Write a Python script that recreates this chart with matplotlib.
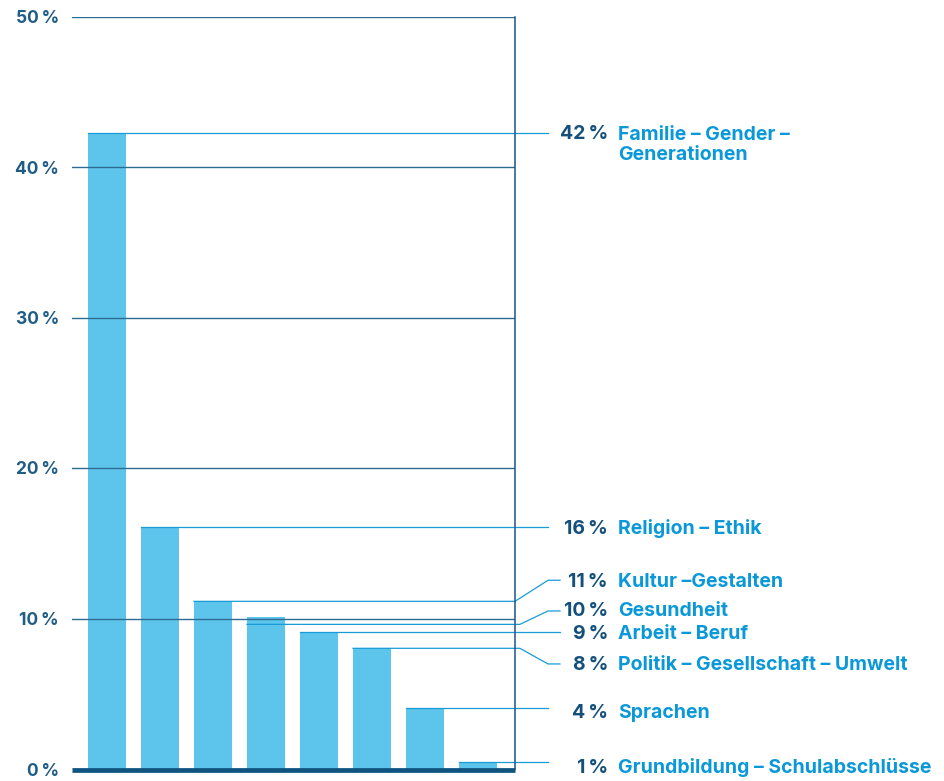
import matplotlib
matplotlib.use("Agg")
import matplotlib.pyplot as plt
import matplotlib.transforms as mtransforms

# ---- data ----
categories = [
    "Familie – Gender –\nGenerationen",
    "Religion – Ethik",
    "Kultur –Gestalten",
    "Gesundheit",
    "Arbeit – Beruf",
    "Politik – Gesellschaft – Umwelt",
    "Sprachen",
    "Grundbildung – Schulabschlüsse",
]
values = [42.24, 16.08, 11.14, 10.1, 9.08, 8.02, 4.05, 0.49]
value_labels = ["42\u2009%", "16\u2009%", "11\u2009%", "10\u2009%", "9\u2009%", "8\u2009%", "4\u2009%", "1\u2009%"]
yticks = [0, 10, 20, 30, 40, 50]
ytick_labels = ["0\u2009%", "10\u2009%", "20\u2009%", "30\u2009%", "40\u2009%", "50\u2009%"]

# ---- layout (label positions, not data) ----
leader_start_y = [None, None, None, 9.61, None, None, None, None]   # None -> bar top
label_y = [42.24, 16.08, 12.54, 10.5, 9.08, 6.98, 4.05, 0.49]
label_dy_px = [1.6, 0, 0, 2, 0, 1, -2.7, -4]
leader_end = [1.0745, 1.0745, 1.1016, 1.1016, 1.1016, 1.1016, 1.0745, 1.0745]

BAR = "#5DC5EC"
LEADER = "#1A9BD7"
CAT = "#0A98D8"
NUM = "#14507A"
TICK = "#1F5C86"
GRID = "#2E6B92"
SPINE = "#1B5580"
BASE = "#0F5381"
FAM = ["Inter", "DejaVu Sans"]
FS = 14
FS_TICK = 12.5
LINE_PX = 21

W, H, DPI = 945, 781, 100
fig = plt.figure(figsize=(W / DPI, H / DPI), dpi=DPI)
ax = fig.add_axes([72 / W, (H - 769) / H, 443 / W, (769 - 16.5) / H])

x = list(range(len(values)))
bw = 38 / 53
ax.bar(x, values, width=bw, color=BAR, zorder=1)

ax.set_xlim(-35 / 53, 408 / 53)
ax.set_ylim(0, 50)

ax.set_yticks(yticks)
ax.set_yticklabels(ytick_labels, fontfamily=FAM, fontweight="bold",
                   fontsize=FS_TICK, color=TICK)
ax.tick_params(axis="y", length=0, pad=9.4)
ax.set_xticks([])
ax.yaxis.grid(True, color=GRID, lw=1.0)
ax.set_axisbelow(False)

for s in ["left", "top", "bottom"]:
    ax.spines[s].set_visible(False)
ax.spines["right"].set_color(SPINE)
ax.spines["right"].set_linewidth(1.1)
ax.spines["right"].set_zorder(4)

# baseline
base_off = mtransforms.ScaledTranslation(0, -1.0 / DPI, fig.dpi_scale_trans)
ax.plot([0, 1], [0, 0], color=BASE, lw=3.4, zorder=5, clip_on=False,
        transform=ax.get_yaxis_transform() + base_off, solid_capstyle="butt")

xl0, xl1 = ax.get_xlim()
tr = ax.get_yaxis_transform()  # x: axes fraction, y: data
for i, v in enumerate(values):
    xs = (x[i] - bw / 2 - xl0) / (xl1 - xl0)
    ys = v if leader_start_y[i] is None else leader_start_y[i]
    ye = label_y[i]
    if abs(ye - ys) > 0.2:
        xb1 = 1.0 if i == 2 else 1.011
        xb2 = 1.0745
        px = [xs, xb1, xb2, leader_end[i]]
        py = [ys, ys, ye, ye]
    else:
        px = [xs, leader_end[i]]
        py = [ys, ys]
    ax.plot(px, py, color=LEADER, lw=0.9, transform=tr, clip_on=False, zorder=3)

    extra = categories[i].count("\n") * LINE_PX
    off = mtransforms.ScaledTranslation(0, (label_dy_px[i] - 7) / DPI, fig.dpi_scale_trans)
    off2 = mtransforms.ScaledTranslation(0, (label_dy_px[i] - 7 - extra) / DPI, fig.dpi_scale_trans)
    ax.text(1.2099, ye, value_labels[i], transform=tr + off, ha="right", va="baseline",
            fontfamily=FAM, fontweight="bold", fontsize=FS, color=NUM, clip_on=False)
    ax.text(1.2325, ye, categories[i], transform=tr + off2, ha="left", va="baseline",
            fontfamily=FAM, fontweight="bold", fontsize=FS, color=CAT, clip_on=False,
            linespacing=1.1)

fig.savefig("out.png", dpi=DPI)
